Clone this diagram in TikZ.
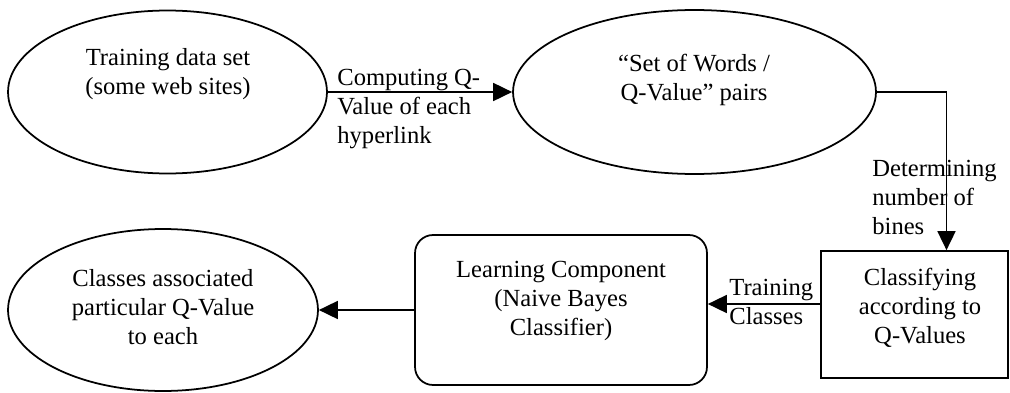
\documentclass[tikz,border=0pt]{standalone}
\usepackage{fontspec}
\setmainfont{Liberation Serif}
\usetikzlibrary{shapes.geometric, arrows.meta, positioning, calc}

\begin{document}
\begin{tikzpicture}[x=0.02cm, y=-0.02cm,
    oval/.style={draw, ellipse, line width=1pt, inner sep=0pt},
    box/.style={draw, rectangle, line width=1pt, inner sep=0pt},
    txt/.style={inner sep=0pt, align=center, font=\fontsize{14}{16.5}\selectfont},
    lbl/.style={inner sep=0pt, align=left, anchor=north west, font=\fontsize{14}{16.5}\selectfont},
    flow/.style={line width=1pt, -{Triangle[length=0.38cm, width=0.36cm]}}]
        \useasboundingbox (0,0) rectangle (1010,392);

        % Shapes
        \node[oval, minimum width=6.38cm, minimum height=3.26cm] (train) at (167.5,92) {};
        \node[oval, minimum width=7.26cm, minimum height=3.28cm] (pairs) at (694.5,92) {};
        \node[box, minimum width=3.74cm, minimum height=2.54cm] (classify) at (914.5,314.5) {};
        \node[box, rounded corners=0.36cm, minimum width=5.84cm, minimum height=3cm] (learn) at (561,310) {};
        \node[oval, minimum width=6.2cm, minimum height=3.24cm] (classes) at (163,310) {};

        % Texts
        \node[txt] (trainTxt) at (168,74) {Training data set\\(some web sites)};
        \node[txt] (pairsTxt) at (694,80) {“Set of Words /\\Q-Value” pairs};
        \node[txt] (classifyTxt) at (920,308) {Classifying\\according to\\Q-Values};
        \node[txt] (learnTxt) at (561,301) {Learning Component\\(Naive Bayes\\Classifier)};
        \node[txt] (classesTxt) at (163,307) {Classes associated\\particular Q-Value\\to each};

        % Connectors
        \draw[flow] (train.east) -- (pairs.west);
        \draw[flow] (pairs.east) -| ([xshift=0.64cm]classify.north);
        \draw[flow] ([yshift=0.21cm]classify.west) -- ([yshift=0.12cm]learn.east);
        \draw[flow] (learn.west) -- (classes.east);

        % Labels
        \node[lbl] (computeLbl) at (337,69) {Computing Q-\\Value of each\\hyperlink};
        \node[lbl] (binesLbl) at (872,160) {Determining\\number of\\bines};
        \node[lbl] (trainLbl) at (729,279) {Training\\Classes};
    \end{tikzpicture}
\end{document}
